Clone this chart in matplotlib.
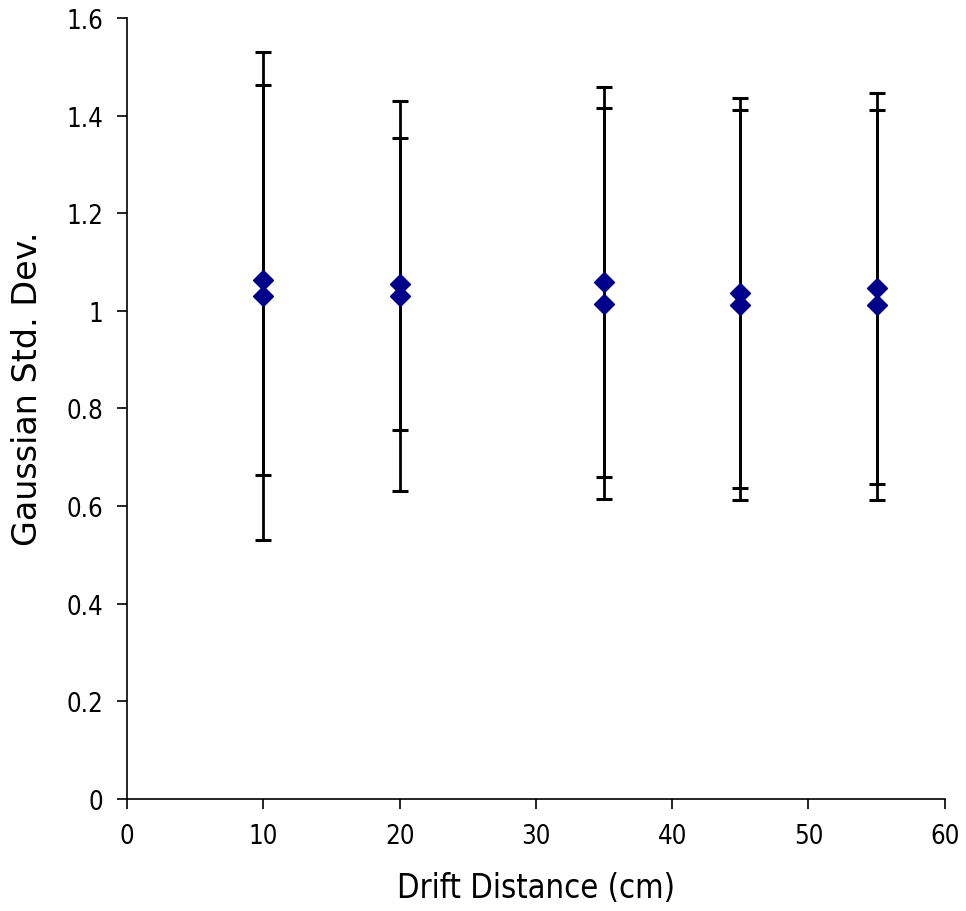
import matplotlib
matplotlib.use('Agg')
import matplotlib.pyplot as plt
import numpy as np

# drift distance (cm)
distance = [10, 20, 35, 45, 55]

# two measurement sets, each with symmetric error
sigma_a = [1.030, 1.030, 1.059, 1.037, 1.046]
err_a = [0.50, 0.40, 0.40, 0.40, 0.40]
sigma_b = [1.063, 1.055, 1.015, 1.012, 1.012]
err_b = [0.40, 0.30, 0.40, 0.40, 0.40]

plt.rcParams['font.family'] = ['DejaVu Sans']

fig = plt.figure(figsize=(9.66, 9.12), dpi=100)
ax = fig.add_axes([0.1315, 0.1228, 0.8465, 0.8564])

for y, e in [(sigma_a, err_a), (sigma_b, err_b)]:
    ax.errorbar(distance, y, yerr=e, fmt='none', ecolor='black',
                elinewidth=2.0, capsize=6, capthick=2.2, zorder=2)
    ax.plot(distance, y, linestyle='none', marker='D', markersize=10,
            color='#00008B', markeredgecolor='#00008B', zorder=3)

ax.set_xlim(0, 60)
ax.set_ylim(0, 1.6)
ax.set_xticks([0, 10, 20, 30, 40, 50, 60])
ax.set_yticks([0, 0.2, 0.4, 0.6, 0.8, 1.0, 1.2, 1.4, 1.6])
ax.set_yticklabels(['0', '0.2', '0.4', '0.6', '0.8', '1', '1.2', '1.4', '1.6'])

for side in ['top', 'right']:
    ax.spines[side].set_visible(False)
for side in ['left', 'bottom']:
    ax.spines[side].set_linewidth(1.2)

ax.tick_params(direction='out', length=7, width=1.2, pad=10)
for lab in ax.get_xticklabels() + ax.get_yticklabels():
    lab.set_fontsize(18.5)
    lab.set_fontstretch('condensed')

ax.set_xlabel('Drift Distance (cm)', fontsize=23.5, fontstretch='condensed', labelpad=16)
ax.set_ylabel('Gaussian Std. Dev.', fontsize=24)
ax.yaxis.set_label_coords(-0.102, 0.526)

fig.savefig('out.png', dpi=100)
